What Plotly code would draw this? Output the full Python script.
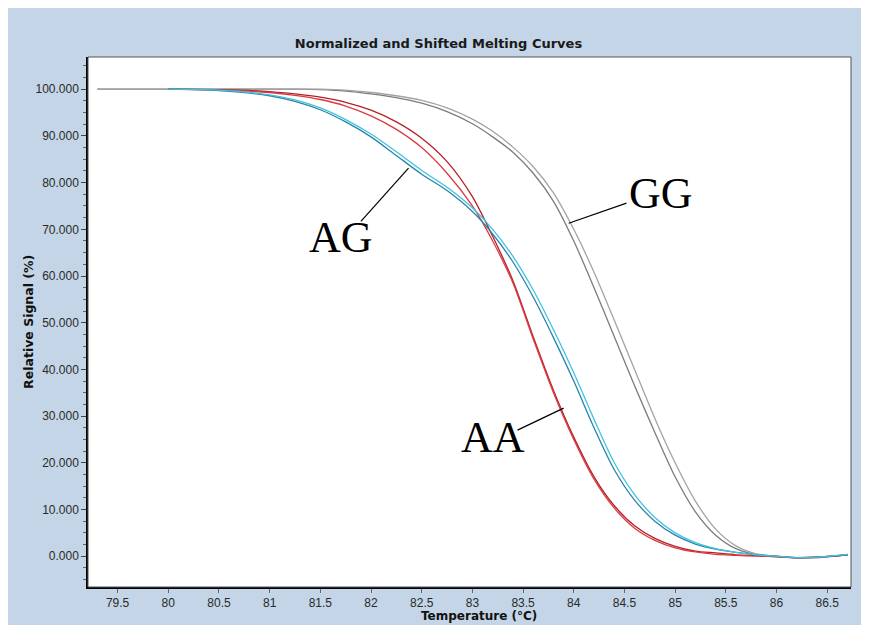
import plotly.graph_objects as go

# temperature grid (°C) shared by all curves
temperature = [79.3, 79.5, 80.0, 80.5, 81.0, 81.25, 81.5, 81.75, 82.0, 82.25,
               82.5, 82.75, 83.0, 83.2, 83.4, 83.6, 83.8, 84.0, 84.2, 84.4,
               84.6, 84.8, 85.0, 85.2, 85.4, 85.6, 85.8, 86.0, 86.2, 86.4, 86.7]

gg_1 = [100, 100, 100, 100, 100, 100, 99.9, 99.6, 99.0, 98.2,
        97.0, 95.2, 92.6, 89.8, 86.5, 82.0, 76.0, 67.5, 57.5, 47.0,
        36.5, 26.5, 17.0, 9.5, 4.5, 1.6, 0.3, -0.1, -0.4, -0.3, 0.3]
gg_2 = [100, 100, 100, 100, 100, 100, 100, 99.8, 99.3, 98.6,
        97.6, 96.0, 93.6, 91.0, 87.6, 83.4, 77.8, 70.0, 60.8, 50.5,
        40.0, 29.5, 20.0, 11.8, 5.8, 2.2, 0.5, 0.0, -0.4, -0.3, 0.4]
aa_1 = [None, None, 100, 99.9, 99.5, 99.0, 98.3, 97.2, 95.5, 93.0,
        89.5, 84.5, 77.0, 68.5, 59.0, 47.0, 35.5, 25.5, 17.0, 10.8,
        6.5, 3.8, 2.1, 1.1, 0.7, 0.3, 0.1, -0.1, -0.3, -0.2, 0.3]
aa_2 = [None, None, 100, 99.8, 99.3, 98.7, 97.8, 96.4, 94.3, 91.4,
        87.5, 82.0, 75.0, 67.5, 58.5, 46.5, 35.0, 25.0, 16.5, 10.3,
        6.0, 3.4, 1.8, 0.9, 0.4, 0.2, 0.0, -0.1, -0.3, -0.2, 0.3]
ag_1 = [None, None, 100, 99.7, 98.6, 97.4, 95.6, 93.0, 89.8, 85.8,
        81.8, 78.3, 73.8, 69.0, 63.0, 55.5, 46.8, 37.5, 27.5, 18.5,
        12.0, 7.5, 4.5, 2.6, 1.5, 0.8, 0.3, 0.0, -0.3, -0.2, 0.3]
ag_2 = [None, None, 100, 99.8, 98.8, 97.7, 96.0, 93.5, 90.4, 86.6,
        82.6, 79.0, 74.6, 70.0, 64.2, 57.0, 48.5, 39.3, 29.3, 20.0,
        13.2, 8.3, 5.0, 2.9, 1.6, 0.8, 0.3, 0.0, -0.3, -0.2, 0.4]

curves = [
    (gg_1, "#7c7c7c"), (gg_2, "#a3a3a3"),
    (aa_1, "#b3202a"), (aa_2, "#dc3a3f"),
    (ag_1, "#2b84a8"), (ag_2, "#3fc3e0"),
]

x_ticks = [79.5, 80, 80.5, 81, 81.5, 82, 82.5, 83, 83.5, 84, 84.5, 85, 85.5, 86, 86.5]

# genotype labels: text, label position, leader line (from, to)
labels = [
    ("AG", 81.70, 68.3, (81.90, 71.7), (82.37, 83.1)),
    ("GG", 84.86, 77.7, (83.95, 71.3), (84.52, 75.6)),
    ("AA", 83.20, 25.5, (83.445, 27.0), (83.90, 31.7)),
]

fig = go.Figure()
for values, color in curves:
    fig.add_trace(go.Scatter(x=temperature, y=values, mode="lines",
                             line=dict(color=color, width=1.3, shape="spline", smoothing=0.8),
                             showlegend=False))

for text, lx, ly, p0, p1 in labels:
    fig.add_annotation(x=lx, y=ly, text=text, showarrow=False,
                       font=dict(family="Liberation Serif", size=44, color="black"))
    fig.add_shape(type="line", x0=p0[0], y0=p0[1], x1=p1[0], y1=p1[1],
                  line=dict(color="black", width=1.2))

# thin frame round the plot area (top/right), axes draw left/bottom
fig.add_shape(type="rect", xref="paper", yref="paper", x0=0, x1=1, y0=0, y1=1,
              line=dict(color="#555", width=1))

# the page body adds 8px on top/left, so the figure is 8px smaller
fig.update_layout(
    width=861, height=617,
    margin=dict(l=80, r=18, t=49, b=38),
    paper_bgcolor="#c3d5e6", plot_bgcolor="white",
    font=dict(family="Liberation Sans", size=12, color="#2a2a2a"),
    title=dict(text="<b>Normalized and Shifted Melting Curves</b>", x=0.5, xanchor="center",
               y=1 - 35 / 617, yanchor="middle", yref="container",
               font=dict(family="DejaVu Sans", size=13, color="#1a1a1a")),
    xaxis=dict(range=[79.208, 86.735], tickvals=x_ticks,
               showgrid=False, zeroline=False, showline=True, linecolor="black", linewidth=1.5,
               ticks="outside", ticklen=4, tickcolor="#666"),
    yaxis=dict(range=[-6.6, 106.9], dtick=10, tickformat=".3f",
               showgrid=False, zeroline=False, showline=True, linecolor="black", linewidth=1.5,
               ticks="outside", ticklen=5, tickcolor="#444",
               minor=dict(dtick=2.5, ticks="outside", ticklen=3, tickcolor="#666")),
)

fig.add_annotation(text="<b>Temperature (°C)</b>", xref="paper", yref="paper",
                   x=(478 - 88) / 762, y=-(616 - 587) / 530, xanchor="center", yanchor="middle",
                   showarrow=False, font=dict(family="DejaVu Sans", size=12, color="#111"))
fig.add_annotation(text="<b>Relative Signal (%)</b>", xref="paper", yref="paper",
                   x=-(88 - 28) / 762, y=0.5, xanchor="center", yanchor="middle",
                   textangle=-90, showarrow=False,
                   font=dict(family="DejaVu Sans", size=12.5, color="#111"))

fig.write_html("out.html")
